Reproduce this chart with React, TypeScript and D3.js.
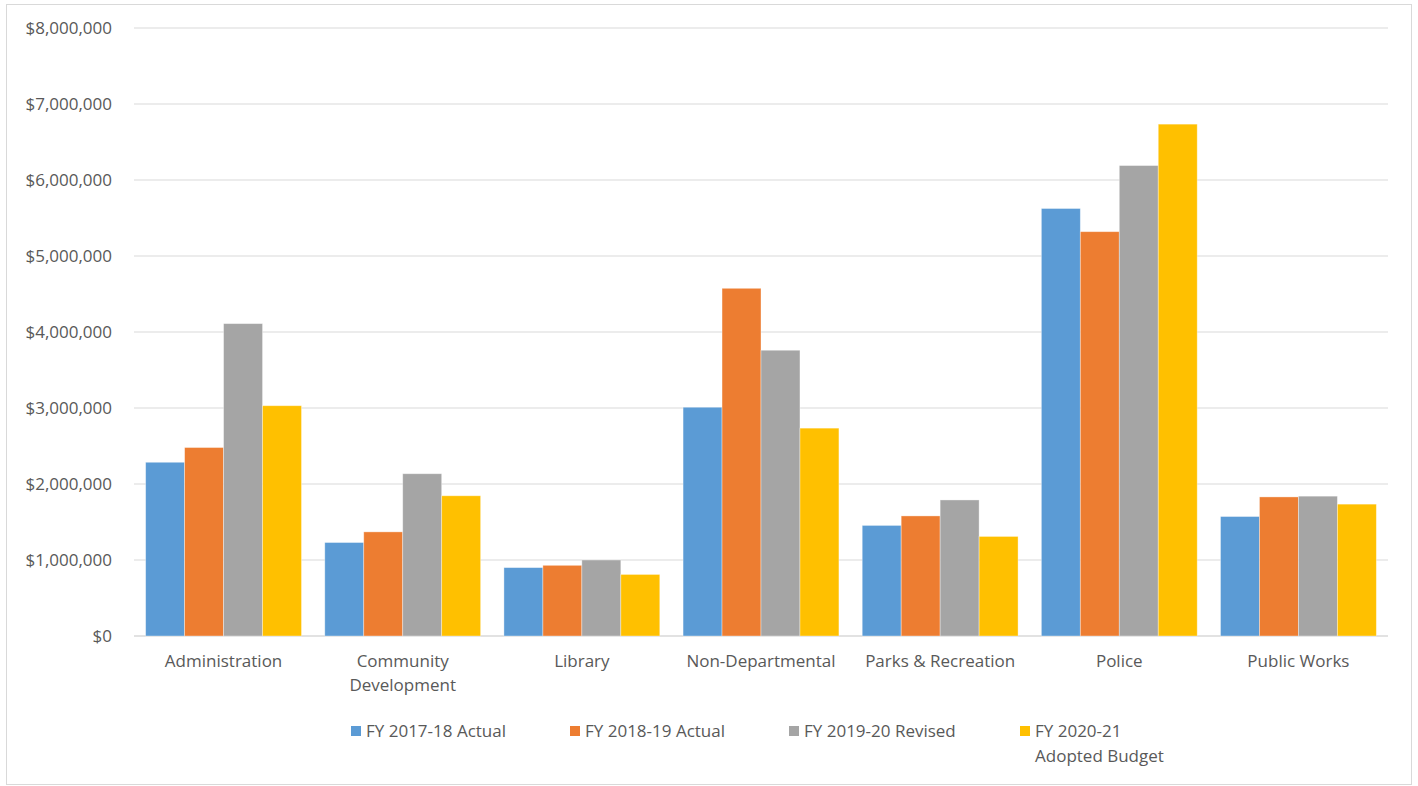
import React from "react";
import * as d3 from "d3";

const categories = [
  "Administration",
  "Community Development",
  "Library",
  "Non-Departmental",
  "Parks & Recreation",
  "Police",
  "Public Works",
];
const categoryLines: Record<string, string[]> = {
  "Community Development": ["Community", "Development"],
};

const seriesNames = ["FY 2017-18 Actual", "FY 2018-19 Actual", "FY 2019-20 Revised", "FY 2020-21 Adopted Budget"];
const legendLines = [["FY 2017-18 Actual"], ["FY 2018-19 Actual"], ["FY 2019-20 Revised"], ["FY 2020-21", "Adopted Budget"]];
const seriesColors = ["#5B9BD5", "#ED7D31", "#A5A5A5", "#FFC000"];

const fy1718 = [2286000, 1230000, 900000, 3010000, 1455000, 5625000, 1572000];
const fy1819 = [2480000, 1370000, 930000, 4575000, 1580000, 5320000, 1830000];
const fy1920 = [4110000, 2135000, 1000000, 3760000, 1790000, 6190000, 1840000];
const fy2021 = [3030000, 1845000, 810000, 2735000, 1310000, 6735000, 1735000];
const seriesValues = [fy1718, fy1819, fy1920, fy2021];

const yTicks = [0, 1000000, 2000000, 3000000, 4000000, 5000000, 6000000, 7000000, 8000000];

const W = 1418;
const H = 786;
const FONT = "'Open Sans', sans-serif";
const TEXT = "#595959";

export default function App() {
  const left = 134;
  const right = 1388;
  const top = 28;
  const bottom = 636;

  const x0 = d3
    .scaleBand<string>()
    .domain(categories)
    .range([left, right])
    .paddingInner(0.13)
    .paddingOuter(0.065);
  const x1 = d3
    .scaleBand<number>()
    .domain(d3.range(seriesNames.length))
    .range([0, x0.bandwidth()]);
  const y = d3.scaleLinear().domain([0, 8000000]).range([bottom, top]);
  const fmt = (v: number) => "$" + d3.format(",")(v);

  const legendX = [351, 570, 789, 1020];

  return (
    <svg
      width={W}
      height={H}
      style={{ position: "absolute", left: 0, top: 0, background: "#fff" }}
      fontFamily={FONT}
    >
      <rect x={6.5} y={4.5} width={1405} height={780} fill="#fff" stroke="#d9d9d9" strokeWidth={1} />

      {yTicks.map((t) => (
        <g key={t}>
          <line x1={left} x2={right} y1={y(t)} y2={y(t)} stroke="#d9d9d9" strokeWidth={t === 0 ? 1.5 : 1} />
          <text x={112} y={y(t)} dy="0.35em" textAnchor="end" fontSize={17} fill={TEXT}>
            {fmt(t)}
          </text>
        </g>
      ))}

      {categories.map((c, ci) => (
        <g key={c} transform={`translate(${x0(c)},0)`}>
          {seriesValues.map((vals, si) => (
            <rect
              key={si}
              x={x1(si)}
              y={y(vals[ci])}
              width={x1.bandwidth()}
              height={y(0) - y(vals[ci])}
              fill={seriesColors[si]}
              stroke="#ffffff"
              strokeOpacity={0.45}
              strokeWidth={0.8}
            />
          ))}
          {(categoryLines[c] || [c]).map((line, li) => (
            <text
              key={li}
              x={x0.bandwidth() / 2}
              y={661 + li * 24}
              dy="0.35em"
              textAnchor="middle"
              fontSize={17}
              fill={TEXT}
            >
              {line}
            </text>
          ))}
        </g>
      ))}

      {seriesNames.map((s, i) => (
        <g key={s}>
          <rect x={legendX[i]} y={726} width={10} height={10} fill={seriesColors[i]} />
          {legendLines[i].map((line, li) => (
            <text key={li} x={legendX[i] + 15} y={731 + li * 25} dy="0.35em" fontSize={17} fill={TEXT}>
              {line}
            </text>
          ))}
        </g>
      ))}
    </svg>
  );
}
